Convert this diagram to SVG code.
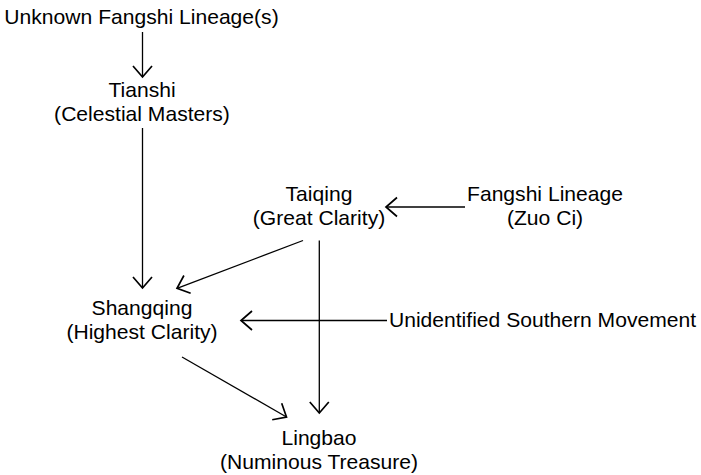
<svg xmlns="http://www.w3.org/2000/svg" width="701" height="475" viewBox="0 0 701 475">
  <defs>
    <style>
      text { font-family: "Liberation Sans", Arial, Helvetica, sans-serif; font-size: 20px; fill: #000; text-anchor: middle; }
      .edge { stroke: #000; stroke-width: 1.3; fill: none; marker-end: url(#arr); }
    </style>
    <marker id="arr" markerUnits="userSpaceOnUse" viewBox="-14 -12 16 24" refX="0" refY="0" markerWidth="16" markerHeight="24" orient="auto" overflow="visible">
      <path d="M -11 -9.5 L 0 0 L -11 9.5" fill="none" stroke="#000" stroke-width="1.7"/>
    </marker>
  </defs>
  <rect width="701" height="475" fill="#fff"/>
  <g id="connectors">
    <line class="edge" x1="142.5" y1="32" x2="142.5" y2="77"/>
    <line class="edge" x1="142.5" y1="128" x2="142.5" y2="288"/>
    <line class="edge" x1="465" y1="207" x2="386" y2="207"/>
    <line class="edge" x1="387" y1="320.5" x2="241" y2="320.5"/>
    <line class="edge" x1="303" y1="240.5" x2="177" y2="288.3"/>
    <line class="edge" x1="319.3" y1="240.5" x2="319.3" y2="413"/>
    <line class="edge" x1="182" y1="357" x2="286.5" y2="417"/>
  </g>
  <g id="unknown-fangshi" transform="translate(141.5 0) scale(1.055 1)">
    <text x="0" y="24.5">Unknown Fangshi Lineage(s)</text>
  </g>
  <g id="tianshi" transform="translate(142 0) scale(1.055 1)">
    <text x="0" y="97.5">Tianshi</text>
    <text x="0" y="121.5">(Celestial Masters)</text>
  </g>
  <g id="taiqing" transform="translate(319 0) scale(1.055 1)">
    <text x="0" y="201.5">Taiqing</text>
    <text x="0" y="225.5">(Great Clarity)</text>
  </g>
  <g id="fangshi-zuoci" transform="translate(545 0) scale(1.055 1)">
    <text x="0" y="201.5">Fangshi Lineage</text>
    <text x="0" y="225.5">(Zuo Ci)</text>
  </g>
  <g id="shangqing" transform="translate(142 0) scale(1.055 1)">
    <text x="0" y="315">Shangqing</text>
    <text x="0" y="339">(Highest Clarity)</text>
  </g>
  <g id="unidentified-southern" transform="translate(542.5 0) scale(1.055 1)">
    <text x="0" y="327.5">Unidentified Southern Movement</text>
  </g>
  <g id="lingbao" transform="translate(319 0) scale(1.055 1)">
    <text x="0" y="445.5">Lingbao</text>
    <text x="0" y="469.5">(Numinous Treasure)</text>
  </g>
</svg>
